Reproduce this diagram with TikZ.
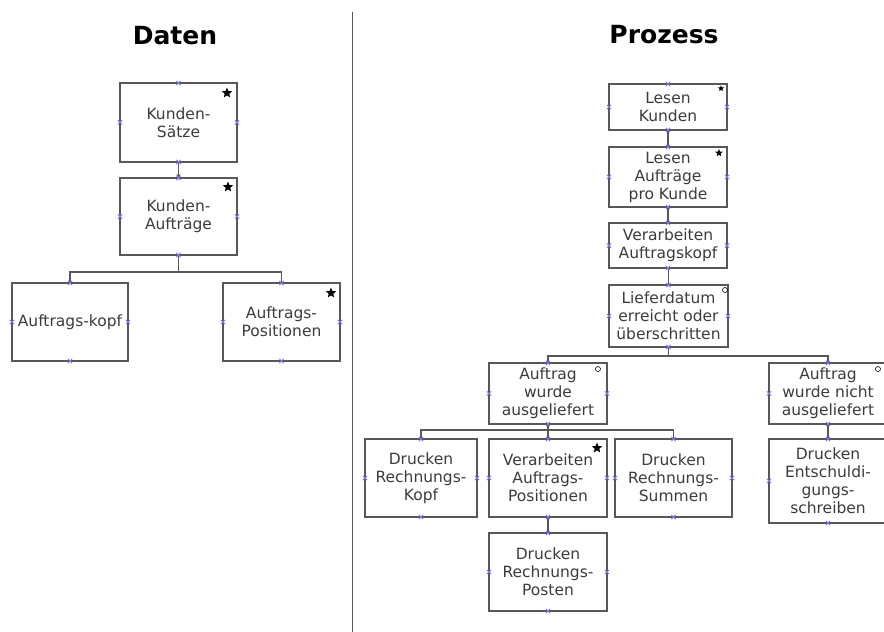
\documentclass[tikz,border=0pt]{standalone}
\usepackage{fontspec}
\setmainfont{DejaVu Sans}
\usetikzlibrary{arrows.meta,shapes.geometric}

\definecolor{boxline}{RGB}{88,88,88}
\definecolor{textgray}{RGB}{60,60,60}
\definecolor{pinblue}{RGB}{120,120,245}

% small blue crosses on the four side midpoints of a box
\newcommand\pinmarks[1]{%
  \foreach \a in {north,south,east,west}{%
    \draw[pin] ([shift={(-2.2,-2.2)}]#1.\a) -- ([shift={(2.2,2.2)}]#1.\a)
               ([shift={(-2.2,2.2)}]#1.\a) -- ([shift={(2.2,-2.2)}]#1.\a);}}

\begin{document}
\begin{tikzpicture}[x=1pt,y=-1pt,
  box/.style={draw=boxline, line width=1.3pt, fill=white, align=center,
    inner sep=0pt, outer sep=0pt, text=textgray,
    font=\fontsize{15.5}{18}\selectfont},
  conn/.style={draw=boxline, line width=1.3pt},
  title/.style={font=\bfseries\fontsize{25}{30}\selectfont, text=black, inner sep=0pt},
  itermark/.style={star, star points=5, star point ratio=2.3, fill=black,
    inner sep=0pt, minimum size=#1},
  itermark/.default=11pt,
  selmark/.style={circle, draw=black, line width=0.6pt, inner sep=0pt, minimum size=5pt},
  pin/.style={draw=pinblue, line width=0.8pt}
]
\useasboundingbox (0,0) rectangle (884,632);
\clip (0,0) rectangle (884,632);

% column separator
\coordinate (divtop) at (352,12);
\coordinate (divbot) at (352,632);
\draw[boxline, line width=1pt] (divtop) -- (divbot);

% headings
\node[title] (tdaten) at (175,36) {Daten};
\node[title] (tproz) at (664,35) {Prozess};

% ---------- data structure ----------
\node[box, minimum width=117pt, minimum height=79pt] (ks) at (178.5,122.5) {Kunden-\\Sätze};
\node[box, minimum width=117pt, minimum height=77pt] (ka) at (178.5,216.5) {Kunden-\\Aufträge};
\node[box, minimum width=116pt, minimum height=78pt] (akopf) at (70,322) {Auftrags-kopf};
\node[box, minimum width=117pt, minimum height=78pt] (apos) at (281.5,322) {Auftrags-\\Positionen};

\coordinate (lbar) at (0,272);
\draw[conn, -{Stealth[length=4pt,width=4pt]}] (ks.south) -- (ka.north);
\draw[conn] (ka.south) -- (ka.south |- lbar) -| (akopf.north);
\draw[conn] (ka.south |- lbar) -| (apos.north);

\node[itermark] (m1) at ([shift={(-10,10)}]ks.north east) {};
\node[itermark] (m2) at ([shift={(-9,9)}]ka.north east) {};
\node[itermark] (m3) at ([shift={(-9,10)}]apos.north east) {};

% ---------- process structure ----------
\node[box, minimum width=118pt, minimum height=46pt] (lk) at (668,107) {Lesen\\Kunden};
\node[box, minimum width=118pt, minimum height=60pt] (la) at (668,177) {Lesen\\Aufträge\\pro Kunde};
\node[box, minimum width=118pt, minimum height=45pt] (va) at (668,245.5) {Verarbeiten\\Auftragskopf};
\node[box, minimum width=119pt, minimum height=62pt] (ld) at (668.5,316) {Lieferdatum\\erreicht oder\\überschritten};
\node[box, minimum width=118pt, minimum height=61pt] (aw) at (548,393.5) {Auftrag\\wurde\\ausgeliefert};
\node[box, minimum width=118pt, minimum height=61pt] (anw) at (828,393.5) {Auftrag\\wurde nicht\\ausgeliefert};
\node[box, minimum width=112pt, minimum height=78pt] (drk) at (421,478) {Drucken\\Rechnungs-\\Kopf};
\node[box, minimum width=118pt, minimum height=78pt] (vap) at (548,478) {Verarbeiten\\Auftrags-\\Positionen};
\node[box, minimum width=117pt, minimum height=78pt] (drs) at (673.5,478) {Drucken\\Rechnungs-\\Summen};
\node[box, minimum width=118pt, minimum height=78pt] (drp) at (548,572) {Drucken\\Rechnungs-\\Posten};
\node[box, minimum width=118pt, minimum height=84pt] (de) at (828,481) {Drucken\\Entschuldi-\\gungs-\\schreiben};

\coordinate (rbar) at (0,356);
\coordinate (abar) at (0,430);
\draw[conn] (lk.south) -- (la.north);
\draw[conn] (la.south) -- (va.north);
\draw[conn] (va.south) -- (ld.south |- va.south) -- (ld.north);
\draw[conn] (ld.south) -- (ld.south |- rbar) -| (aw.north);
\draw[conn] (ld.south |- rbar) -| (anw.north);
\draw[conn] (aw.south) -- (aw.south |- abar) -| (drk.north);
\draw[conn] (aw.south |- abar) -- (vap.north);
\draw[conn] (aw.south |- abar) -| (drs.north);
\draw[conn] (vap.south) -- (drp.north);
\draw[conn] (anw.south) -- (de.north);

\node[itermark=6.5pt] (m4) at ([shift={(-6,4.5)}]lk.north east) {};
\node[itermark=8pt] (m5) at ([shift={(-8,6)}]la.north east) {};
\node[itermark] (m6) at ([shift={(-10,9)}]vap.north east) {};
\node[selmark] (s1) at ([shift={(-3,5)}]ld.north east) {};
\node[selmark] (s2) at ([shift={(-9,6)}]aw.north east) {};
\node[selmark] (s3) at ([shift={(-9,6)}]anw.north east) {};

% connection points
\foreach \n in {ks,ka,akopf,apos,lk,la,va,ld,aw,anw,drk,vap,drs,drp,de}{\pinmarks{\n}}
\end{tikzpicture}
\end{document}
